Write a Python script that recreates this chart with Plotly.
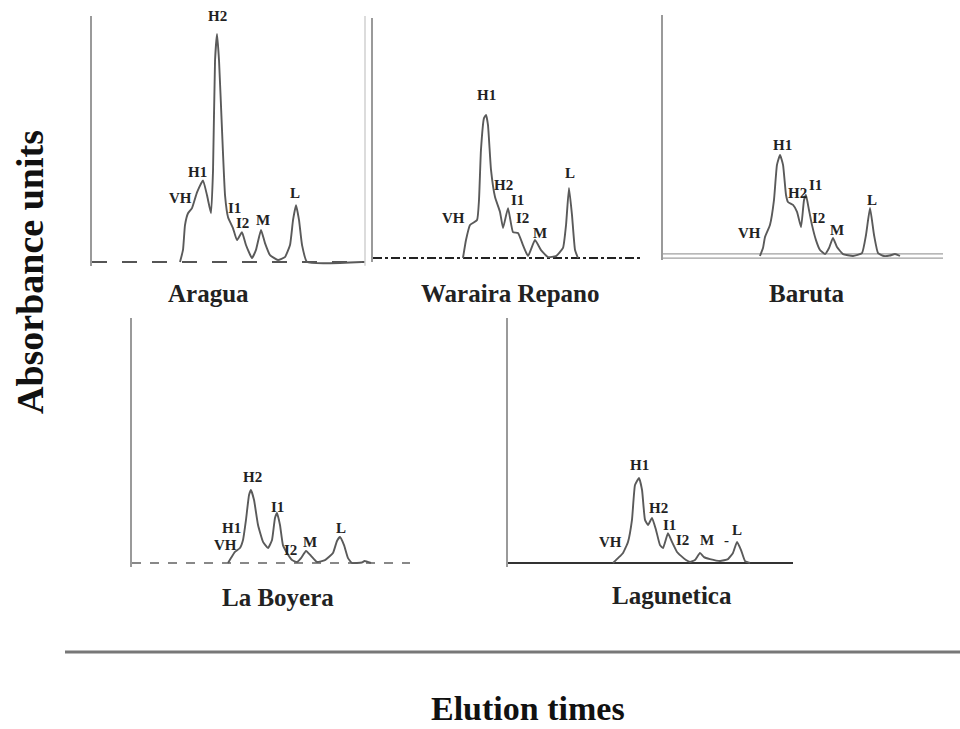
import plotly.graph_objects as go

# ---------------- data (elution time in min, absorbance in relative units) -------------
sites = ["Aragua", "Waraira Repano", "Baruta", "La Boyera", "Lagunetica"]

aragua_t = [9.67, 10.0, 10.22, 10.55, 10.99, 11.54, 12.20, 12.64, 13.08, 13.30, 13.52, 13.74, 13.96,
            14.29, 14.62, 14.95, 15.49, 15.93, 16.48, 16.92, 17.58, 18.02, 18.57, 19.01, 19.56,
            20.44, 21.20, 21.76, 22.09, 22.42, 22.75, 23.08, 23.63, 29.67]
aragua_a = [0, 4.9, 15.0, 19.8, 21.9, 28.3, 33.2, 27.1, 19.8, 37.3, 81.8, 92.7, 81.8,
            53.4, 27.1, 18.2, 13.8, 8.9, 12.1, 6.9, 1.6, 4.9, 13.0, 7.7, 2.8,
            0.8, 2.0, 6.9, 17.0, 23.1, 17.0, 6.9, 0, 0]

waraira_t = [10.11, 10.45, 10.90, 11.69, 11.91, 12.13, 12.47, 12.70, 12.92, 13.26, 13.71, 14.27,
             14.61, 15.17, 15.73, 16.29, 16.85, 17.42, 18.20, 18.88, 19.66, 20.56, 21.35, 21.69,
             22.02, 22.36, 22.70, 23.03]
waraira_a = [0, 7.5, 13.75, 15.8, 24.2, 45.0, 58.3, 59.6, 55.4, 36.7, 25.4, 19.2,
             12.5, 20.8, 10.8, 10.4, 5.4, 0.8, 7.5, 3.3, 0.4, 0.8, 4.2, 13.75,
             29.2, 17.9, 3.3, 0]

baruta_t = [10.39, 10.71, 10.93, 11.46, 11.89, 12.21, 12.54, 12.86, 13.18, 13.39, 13.93, 14.36,
            14.79, 15.11, 15.32, 15.64, 15.96, 16.39, 16.82, 17.36, 17.79, 18.21, 18.64, 19.29,
            20.36, 21.32, 21.75, 22.18, 22.61, 23.04, 23.68, 24.30, 24.86, 25.39]
baruta_a = [0, 3.3, 7.9, 12.9, 23.2, 37.8, 41.9, 37.8, 25.3, 22.4, 21.2, 18.3,
            12.0, 23.2, 25.3, 19.1, 12.9, 6.6, 2.5, 0.8, 3.3, 7.5, 3.7, 0.8,
            0, 1.2, 8.7, 19.9, 8.7, 1.2, 0, 0.2, 0.8, 0]

boyera_t = [10.36, 10.68, 11.11, 11.65, 11.98, 12.30, 12.63, 12.84, 13.17, 13.60, 14.14, 14.68,
            15.11, 15.43, 15.65, 15.97, 16.29, 16.73, 17.27, 17.81, 18.24, 18.78, 19.32, 19.96,
            20.83, 21.69, 22.12, 22.44, 22.88, 23.31, 23.74, 24.80, 25.10, 25.79]
boyera_a = [0, 2.0, 4.5, 6.1, 9.4, 17.6, 27.8, 29.8, 25.7, 15.5, 8.6, 6.1,
            9.4, 18.4, 20.4, 15.5, 7.3, 4.1, 1.2, 0.4, 2.0, 4.9, 2.9, 0.4,
            1.2, 4.1, 9.0, 10.6, 7.3, 2.0, 0, 0.2, 0.8, 0]

laguna_t = [11.05, 11.58, 12.11, 12.63, 13.05, 13.37, 13.79, 14.11, 14.42, 14.74, 15.16, 15.58,
            16.00, 16.32, 16.84, 17.26, 17.79, 18.21, 18.74, 19.16, 19.68, 20.21, 20.63, 21.26,
            22.32, 23.16, 23.68, 24.11, 24.53, 24.95, 25.47]
laguna_a = [0, 2.0, 4.1, 8.6, 17.6, 31.8, 34.7, 29.8, 17.6, 15.5, 18.4, 13.5,
            7.3, 6.1, 12.2, 8.6, 4.5, 2.9, 1.2, 0.4, 1.2, 4.1, 2.4, 1.6,
            0.8, 1.6, 4.1, 8.6, 5.3, 0.8, 0]

# peak labels: (label, time, absorbance) per site
aragua_lbl = [("VH", 9.67, 25.9), ("H1", 11.54, 36.4), ("H2", 13.74, 100.0), ("I1", 15.71, 21.9),
              ("I2", 16.59, 15.8), ("M", 18.79, 17.0), ("L", 22.31, 27.9)]
waraira_lbl = [("VH", 8.99, 16.7), ("H1", 12.70, 67.9), ("H2", 14.61, 30.4), ("I1", 16.18, 24.2),
               ("I2", 16.85, 16.7), ("M", 18.76, 10.4), ("L", 22.13, 35.4)]
baruta_lbl = [("VH", 9.32, 9.5), ("H1", 12.75, 46.1), ("H2", 14.36, 26.1), ("I1", 16.39, 29.5),
              ("I2", 16.61, 15.8), ("M", 18.64, 10.8), ("L", 22.39, 23.2)]
boyera_lbl = [("VH", 10.14, 7.3), ("H1", 10.79, 14.3), ("H2", 12.95, 35.1), ("I1", 15.75, 22.9),
              ("I2", 17.05, 5.3), ("M", 19.21, 8.6), ("L", 22.55, 14.3)]
laguna_lbl = [("VH", 10.74, 8.6), ("H1", 13.89, 40.0), ("H2", 15.79, 22.4), ("I1", 17.05, 15.5),
              ("I2", 18.32, 9.4), ("M", 20.95, 9.4), ("-", 23.05, 9.4), ("L", 24.11, 13.5)]

curves_t = [aragua_t, waraira_t, baruta_t, boyera_t, laguna_t]
curves_a = [aragua_a, waraira_a, baruta_a, boyera_a, laguna_a]
labels = [aragua_lbl, waraira_lbl, baruta_lbl, boyera_lbl, laguna_lbl]

T_MAX = 30
A_MAX = 100
A_MIN = -1.5

# ---------------- layout (pixel boxes of each panel: left, right, baseline, top) --------
W, H = 960, 729
boxes = [(92, 365, 262, 16), (373, 640, 258, 18), (663, 943, 256, 15),
         (132, 410, 563, 318), (508, 793, 563, 318)]
title_pos = [(208, 293), (510, 294), (807, 293), (278, 597), (672, 595)]
baseline_style = [dict(color="#555", width=2, dash="longdash"),
                  dict(color="#222", width=2, dash="dashdot"),
                  None,
                  dict(color="#888", width=2, dash="dash"),
                  dict(color="#333", width=2.2, dash="solid")]

SERIF = "Liberation Serif, Times New Roman, serif"

fig = go.Figure()
annotations = []
shapes = []
layout_axes = {}

for i in range(5):
    n = "" if i == 0 else str(i + 1)
    xa, ya = "x" + n, "y" + n
    left, right, base, top = boxes[i]
    px_per_a = (base - top) / A_MAX
    bottom = base - A_MIN * px_per_a  # extend below baseline a bit
    layout_axes["xaxis" + n] = dict(domain=[left / W, right / W], range=[0, T_MAX],
                                    anchor=ya, showline=False, showgrid=False, zeroline=False,
                                    showticklabels=False, ticks="", fixedrange=True)
    layout_axes["yaxis" + n] = dict(domain=[1 - bottom / H, 1 - top / H], range=[A_MIN, A_MAX],
                                    anchor=xa, showline=True, linecolor="#9a9a9a", linewidth=2,
                                    showgrid=False, zeroline=False, showticklabels=False,
                                    ticks="", fixedrange=True)
    # baseline
    if baseline_style[i] is not None:
        fig.add_trace(go.Scatter(x=[0, T_MAX], y=[0, 0], mode="lines", xaxis=xa, yaxis=ya,
                                 line=baseline_style[i], hoverinfo="skip", showlegend=False))
    else:
        for off in (0.9, -0.9):
            fig.add_trace(go.Scatter(x=[0, T_MAX], y=[off, off], mode="lines", xaxis=xa, yaxis=ya,
                                     line=dict(color="#a0a0a0", width=1.4), hoverinfo="skip",
                                     showlegend=False))
    # chromatogram
    fig.add_trace(go.Scatter(x=curves_t[i], y=curves_a[i], mode="lines", xaxis=xa, yaxis=ya,
                             line=dict(color="#5a5a5a", width=1.9, shape="spline", smoothing=0.4),
                             showlegend=False, name=sites[i]))
    for (txt, tx, ty) in labels[i]:
        annotations.append(dict(text="<b>" + txt + "</b>", x=tx, y=ty, xref=xa, yref=ya,
                                showarrow=False,
                                font=dict(family=SERIF, size=15, color="#222"),
                                xanchor="center", yanchor="middle"))
    tx, ty = title_pos[i]
    annotations.append(dict(text="<b>" + sites[i] + "</b>", x=tx / W, y=1 - ty / H,
                            xref="paper", yref="paper",
                            showarrow=False, xanchor="center", yanchor="middle",
                            font=dict(family=SERIF, size=25, color="#222")))

# right frame line in the first panel
shapes.append(dict(type="line", xref="x domain", yref="y domain", x0=1, x1=1, y0=0, y1=1,
                   line=dict(color="#d0d0d0", width=1.5)))
# separator line above x title
shapes.append(dict(type="line", xref="paper", yref="paper", x0=65 / W, x1=1.0,
                   y0=1 - 652 / H, y1=1 - 652 / H, line=dict(color="#777", width=3)))

annotations.append(dict(text="<b>Absorbance units</b>", x=30 / W, y=1 - 272 / H, xref="paper",
                        yref="paper", showarrow=False, textangle=-90, xanchor="center",
                        yanchor="middle", font=dict(family=SERIF, size=38, color="#111")))
annotations.append(dict(text="<b>Elution times</b>", x=528 / W, y=1 - 708 / H, xref="paper",
                        yref="paper", showarrow=False, xanchor="center", yanchor="middle",
                        font=dict(family=SERIF, size=34, color="#111")))

fig.update_layout(width=W, height=H, autosize=False, margin=dict(l=0, r=0, t=0, b=0),
                  paper_bgcolor="white", plot_bgcolor="white", showlegend=False,
                  annotations=annotations, shapes=shapes, **layout_axes)

fig.write_html("out.html", config={"displayModeBar": False, "staticPlot": True},
               post_script="document.body.style.margin='0px';document.body.style.padding='0px';"
                           "document.body.style.overflow='hidden';")
